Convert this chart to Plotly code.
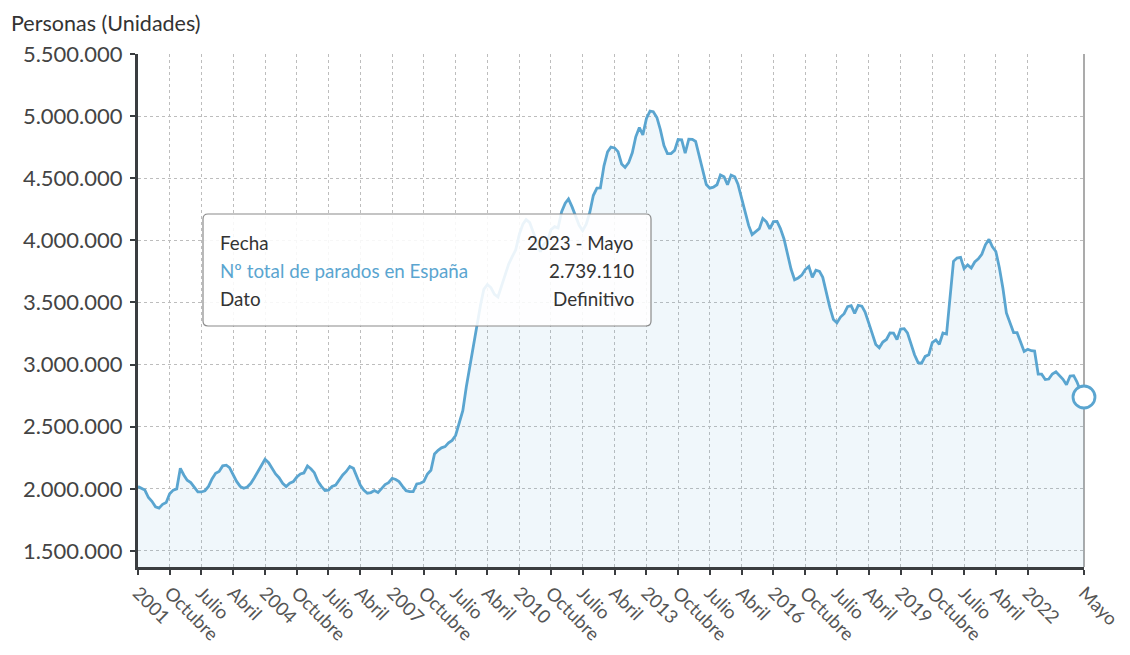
import pandas as pd
import plotly.graph_objects as go

# ---- data (personas) ----
p2001 = [2018000, 2005000, 1990000, 1930000, 1900000, 1855000, 1845000, 1875000, 1890000, 1960000, 1990000, 2000000]
p2002 = [2165000, 2110000, 2070000, 2050000, 2010000, 1975000, 1975000, 1985000, 2020000, 2080000, 2125000, 2140000]
p2003 = [2185000, 2190000, 2170000, 2110000, 2060000, 2020000, 2005000, 2015000, 2045000, 2090000, 2140000, 2190000]
p2004 = [2238000, 2210000, 2170000, 2120000, 2090000, 2045000, 2018000, 2045000, 2058000, 2095000, 2120000, 2128000]
p2005 = [2184000, 2160000, 2130000, 2060000, 2020000, 1986000, 1990000, 2020000, 2030000, 2070000, 2112000, 2140000]
p2006 = [2180000, 2165000, 2100000, 2030000, 1990000, 1965000, 1970000, 1986000, 1970000, 2000000, 2035000, 2050000]
p2007 = [2085000, 2075000, 2058000, 2020000, 1985000, 1977000, 1977000, 2040000, 2045000, 2060000, 2120000, 2150000]
p2008 = [2280000, 2310000, 2330000, 2340000, 2370000, 2390000, 2430000, 2530000, 2630000, 2820000, 2990000, 3130000]
p2009 = [3327801, 3481859, 3605402, 3644041, 3620139, 3564889, 3544105, 3629080, 3709447, 3808353, 3868946, 3923603]
p2010 = [4048493, 4130625, 4166613, 4142425, 4066202, 3982368, 3908525, 3969661, 3992011, 4085976, 4110294, 4100073]
p2011 = [4231003, 4299263, 4333669, 4269360, 4189659, 4121801, 4079742, 4130927, 4226744, 4360926, 4420462, 4422359]
p2012 = [4599829, 4712098, 4750867, 4744235, 4714122, 4615269, 4587455, 4625634, 4705279, 4833521, 4907817, 4848723]
p2013 = [4980778, 5040222, 5035243, 4989193, 4890928, 4763680, 4698814, 4698783, 4724355, 4811383, 4808908, 4701338]
p2014 = [4814435, 4812486, 4795866, 4684301, 4572385, 4449701, 4419860, 4427930, 4447650, 4526804, 4512153, 4447711]
p2015 = [4525691, 4512116, 4451939, 4333016, 4215031, 4120304, 4046276, 4067955, 4094042, 4176369, 4149298, 4093508]
p2016 = [4150710, 4152986, 4094770, 4011171, 3891403, 3767054, 3683061, 3697496, 3720297, 3764982, 3789823, 3702974]
p2017 = [3760231, 3750876, 3702317, 3573036, 3461128, 3362811, 3335924, 3382324, 3410182, 3467026, 3474281, 3412781]
p2018 = [3476528, 3470248, 3422551, 3335868, 3252130, 3162162, 3135021, 3182068, 3202509, 3254145, 3252867, 3202297]
p2019 = [3285761, 3289040, 3255084, 3163566, 3079491, 3015686, 3011433, 3065804, 3079711, 3177659, 3198184, 3163605]
p2020 = [3253853, 3246047, 3548312, 3831203, 3857776, 3862883, 3773034, 3802814, 3776485, 3826043, 3851312, 3888137]
p2021 = [3964353, 4008789, 3949640, 3910628, 3781250, 3614339, 3416498, 3333915, 3257802, 3257068, 3182687, 3105905]
p2022 = [3123078, 3111684, 3108763, 2922991, 2922911, 2880582, 2883812, 2924240, 2941919, 2914892, 2881380, 2837653]
p2023 = [2908397, 2911015, 2862260, 2788370, 2739110]

values = (p2001 + p2002 + p2003 + p2004 + p2005 + p2006 + p2007 + p2008 + p2009 + p2010 + p2011
          + p2012 + p2013 + p2014 + p2015 + p2016 + p2017 + p2018 + p2019 + p2020 + p2021 + p2022 + p2023)
dates = pd.date_range("2001-01-01", periods=len(values), freq="MS")

tick_dates = ["2001-01-01", "2001-10-01", "2002-07-01", "2003-04-01", "2004-01-01", "2004-10-01",
              "2005-07-01", "2006-04-01", "2007-01-01", "2007-10-01", "2008-07-01", "2009-04-01",
              "2010-01-01", "2010-10-01", "2011-07-01", "2012-04-01", "2013-01-01", "2013-10-01",
              "2014-07-01", "2015-04-01", "2016-01-01", "2016-10-01", "2017-07-01", "2018-04-01",
              "2019-01-01", "2019-10-01", "2020-07-01", "2021-04-01", "2022-01-01", "2023-05-01"]
tick_labels = ["2001", "Octubre", "Julio", "Abril", "2004", "Octubre", "Julio", "Abril", "2007", "Octubre",
               "Julio", "Abril", "2010", "Octubre", "Julio", "Abril", "2013", "Octubre", "Julio", "Abril",
               "2016", "Octubre", "Julio", "Abril", "2019", "Octubre", "Julio", "Abril", "2022", "Mayo"]
y_ticks = [1500000, 2000000, 2500000, 3000000, 3500000, 4000000, 4500000, 5000000, 5500000]

series_name = "Nº total de parados en España"
tip_rows = [("Fecha", "2023 - Mayo"), (series_name, "2.739.110"), ("Dato", "Definitivo")]

LINE = "#5aa5d0"
FONT = "Lato, 'Open Sans', sans-serif"

fig = go.Figure()
fig.add_trace(go.Scatter(
    x=dates, y=values, mode="lines", name=series_name,
    line=dict(color=LINE, width=2.8),
    fill="tozeroy", fillcolor="rgba(90,165,208,0.09)",
    hoverinfo="skip", showlegend=False,
))
fig.add_trace(go.Scatter(
    x=[dates[-1]], y=[values[-1]], mode="markers",
    marker=dict(size=22, color="white", line=dict(color=LINE, width=2.8)),
    hoverinfo="skip", showlegend=False, cliponaxis=False,
))

# page offset of the plot div (body margin)
OFF = 8
W, H = 1114, 639
PL, PR, PT, PB = 138, 1084, 54, 567   # plot area in window pixels
L, T = PL - OFF, PT - OFF
R = W + OFF - PR
B = H + OFF - PB
pw, ph = PR - PL, PB - PT

def px(x):
    return (x - PL) / pw

def py(y):
    return (PB - y) / ph

# tooltip box with rounded corners
x0, x1, y0, y1, r = 203, 651, 214, 326, 5
pts = (f"M {px(x0 + r)} {py(y0)} L {px(x1 - r)} {py(y0)} Q {px(x1)} {py(y0)} {px(x1)} {py(y0 + r)} "
       f"L {px(x1)} {py(y1 - r)} Q {px(x1)} {py(y1)} {px(x1 - r)} {py(y1)} "
       f"L {px(x0 + r)} {py(y1)} Q {px(x0)} {py(y1)} {px(x0)} {py(y1 - r)} "
       f"L {px(x0)} {py(y0 + r)} Q {px(x0)} {py(y0)} {px(x0 + r)} {py(y0)} Z")
shapes = [
    dict(type="path", path=pts, xref="paper", yref="paper",
         fillcolor="rgba(255,255,255,0.88)", line=dict(color="#8a8a8a", width=1.2), layer="above"),
    dict(type="line", xref="paper", yref="paper", x0=1, x1=1, y0=0, y1=1,
         line=dict(color="#8f8f8f", width=1.5), layer="below"),
]

annotations = [dict(text="Personas (Unidades)", xref="paper", yref="paper", x=px(10), y=py(9),
                    xanchor="left", yanchor="top", showarrow=False, borderpad=0,
                    font=dict(size=21.5, color="#333333", family=FONT))]
for i, (k, v) in enumerate(tip_rows):
    yy = py(242 + 28 * i)
    annotations.append(dict(text=k, xref="paper", yref="paper", x=px(218), y=yy, xanchor="left",
                            yanchor="middle", showarrow=False,
                            font=dict(size=18.8, color=LINE if i == 1 else "#333333", family=FONT)))
    annotations.append(dict(text=v, xref="paper", yref="paper", x=px(636), y=yy, xanchor="right",
                            yanchor="middle", showarrow=False,
                            font=dict(size=18.8, color="#333333", family=FONT)))

fig.update_layout(
    width=W, height=H,
    margin=dict(l=L, r=R, t=T, b=B, pad=0),
    paper_bgcolor="white", plot_bgcolor="white",
    separators=",.",
    font=dict(family=FONT, color="#444444"),
    shapes=shapes, annotations=annotations,
    xaxis=dict(
        range=[dates[0], dates[-1]],
        tickmode="array", tickvals=tick_dates, ticktext=tick_labels, tickangle=45,
        tickfont=dict(size=18.5, color="#555555"),
        automargin=False, ticklabeloverflow="allow",
        showgrid=True, gridcolor="#bdbdbd", griddash="dot", gridwidth=1,
        showline=True, linecolor="#3a3d40", linewidth=3,
        ticks="outside", ticklen=5, tickcolor="#3a3d40", tickwidth=2,
        zeroline=False,
    ),
    yaxis=dict(
        range=[1371000, 5500000],
        tickmode="array", tickvals=y_ticks,
        tickformat=",d",
        tickfont=dict(size=22, color="#444444"),
        ticklabelstandoff=3,
        automargin=False,
        showgrid=True, gridcolor="#bdbdbd", griddash="dot", gridwidth=1,
        showline=True, linecolor="#3a3d40", linewidth=3,
        ticks="outside", ticklen=5, tickcolor="#3a3d40", tickwidth=2,
        zeroline=False,
    ),
)

fig.write_html("out.html")
